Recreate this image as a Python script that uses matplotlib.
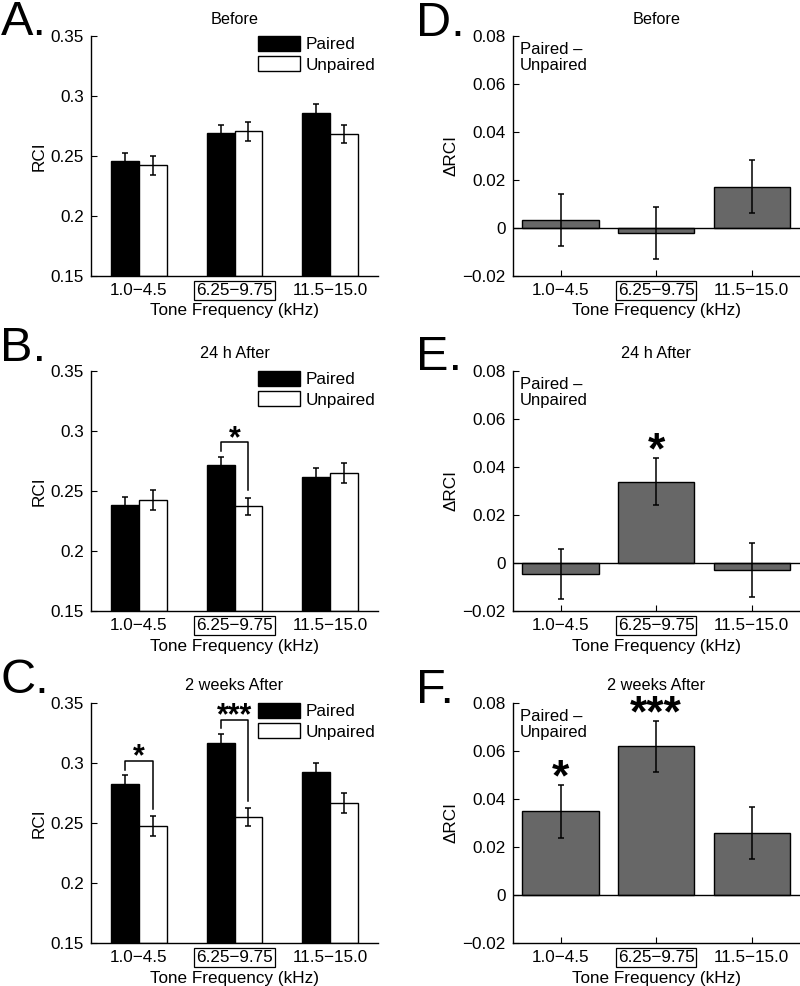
import matplotlib
matplotlib.use("Agg")
import matplotlib.pyplot as plt
import numpy as np

plt.rcParams['font.family'] = ['Liberation Sans', 'DejaVu Sans']

categories = ["1.0\u22124.5", "6.25\u22129.75", "11.5\u221215.0"]
boxed_category = 1

titles = ["Before", "24 h After", "2 weeks After"]
left_letters = ["A.", "B.", "C."]
right_letters = ["D.", "E.", "F."]

# RCI values (left column)
paired = [
    [0.2456, 0.2689, 0.2856],
    [0.2380, 0.2715, 0.2620],
    [0.2828, 0.3169, 0.2925],
]
paired_err = [
    [0.0067, 0.0072, 0.0075],
    [0.0068, 0.0070, 0.0073],
    [0.0070, 0.0072, 0.0072],
]
unpaired = [
    [0.2422, 0.2706, 0.2681],
    [0.2425, 0.2372, 0.2650],
    [0.2475, 0.2547, 0.2667],
]
unpaired_err = [
    [0.0080, 0.0080, 0.0075],
    [0.0082, 0.0072, 0.0084],
    [0.0083, 0.0075, 0.0083],
]
# significance between paired / unpaired (panel index, group index, label)
pair_sig = [(1, 1, "*"), (2, 0, "*"), (2, 1, "***")]

# Delta RCI (right column)
delta = [
    [0.0033, -0.0021, 0.0172],
    [-0.0046, 0.0339, -0.0028],
    [0.0349, 0.0619, 0.0258],
]
delta_err = [
    [0.0108, 0.0109, 0.0110],
    [0.0105, 0.0098, 0.0113],
    [0.0111, 0.0106, 0.0110],
]
delta_sig = [(1, 1, "*"), (2, 0, "*"), (2, 1, "***")]

W, H = 800, 986
fig = plt.figure(figsize=(W / 100, H / 100), dpi=100)

ax_w = 287 / W
ax_h = 240 / H
tops = [36, 371, 703]
lefts = [91, 512.7]
letter_base_left = [35, 361, 693]
letter_base_right = [36, 370, 703]

x = np.arange(1, 4)
bw = 0.29
FS = 12.3


def style_axes(ax):
    for s in ["top", "right"]:
        ax.spines[s].set_visible(False)
    for s in ["left", "bottom"]:
        ax.spines[s].set_linewidth(1.0)
    ax.tick_params(direction="in", length=4, width=0.8, labelsize=FS, pad=5)
    ax.set_xlim(0.5, 3.5)
    ax.set_xticks(x)
    ax.set_xticklabels(categories)
    lab = ax.get_xticklabels()[boxed_category]
    lab.set_bbox(dict(boxstyle="square,pad=0.1", fc="none", ec="black", lw=0.9))
    ax.set_xlabel("Tone Frequency (kHz)", fontsize=FS, labelpad=4)


def star(ax, xc, y, lbl, size, off_px):
    # place asterisk glyph centre about off_px pixels above y
    fs_px = size * 100 / 72
    base = off_px - 0.57 * fs_px
    ax.annotate(lbl, xy=(xc, y), xytext=(0, base * 72 / 100), textcoords="offset points",
                ha="center", va="baseline", fontsize=size, fontweight="bold")


for i in range(3):
    # left column
    ax = fig.add_axes([lefts[0] / W, 1 - (tops[i] + 240) / H, ax_w, ax_h])
    ax.bar(x - bw / 2, np.array(paired[i]) - 0.15, bw, bottom=0.15, color="black",
           edgecolor="black", linewidth=1, label="Paired", zorder=2)
    ax.bar(x + bw / 2, np.array(unpaired[i]) - 0.15, bw, bottom=0.15, color="white",
           edgecolor="black", linewidth=1, label="Unpaired", zorder=2)
    ax.errorbar(x - bw / 2, paired[i], yerr=paired_err[i], fmt="none", ecolor="black",
                elinewidth=1.1, capsize=2, capthick=1.1, zorder=3)
    ax.errorbar(x + bw / 2, unpaired[i], yerr=unpaired_err[i], fmt="none", ecolor="black",
                elinewidth=1.1, capsize=2, capthick=1.1, zorder=3)
    ax.set_ylim(0.15, 0.35)
    ax.set_yticks([0.15, 0.2, 0.25, 0.3, 0.35])
    ax.set_yticklabels(["0.15", "0.2", "0.25", "0.3", "0.35"])
    style_axes(ax)
    ax.set_ylabel("RCI", fontsize=FS, labelpad=3)
    ax.set_title(titles[i], fontsize=11.7, pad=9)
    ax.legend(loc="upper right", bbox_to_anchor=(0.99, 1.0), frameon=False, fontsize=FS,
              handlelength=2.45, handleheight=0.93, labelspacing=0.25, handletextpad=0.3,
              borderaxespad=0, borderpad=0)
    for (p, g, lbl) in pair_sig:
        if p != i:
            continue
        top_p = paired[i][g] + paired_err[i][g]
        top_u = unpaired[i][g] + unpaired_err[i][g]
        yb = top_p + 0.012
        ax.plot([x[g] - bw / 2, x[g] - bw / 2, x[g] + bw / 2, x[g] + bw / 2],
                [top_p + 0.0047, yb, yb, top_u + 0.0062], color="black", lw=1.1)
        star(ax, x[g], yb, lbl, 22, 13)
    fig.text(0.5 / W, 1 - letter_base_left[i] / H, left_letters[i], fontsize=35,
             va="baseline", ha="left")

    # right column
    ax = fig.add_axes([lefts[1] / W, 1 - (tops[i] + 240) / H, ax_w, ax_h])
    ax.bar(x, delta[i], 0.8, color="#676767", edgecolor="black", linewidth=1, zorder=2)
    ax.errorbar(x, delta[i], yerr=delta_err[i], fmt="none", ecolor="black",
                elinewidth=1.1, capsize=2, capthick=1.1, zorder=3)
    ax.axhline(0, color="black", lw=1, zorder=4)
    ax.set_ylim(-0.02, 0.08)
    ax.set_yticks([-0.02, 0, 0.02, 0.04, 0.06, 0.08])
    ax.set_yticklabels(["\u22120.02", "0", "0.02", "0.04", "0.06", "0.08"])
    style_axes(ax)
    ax.set_ylabel("\u0394RCI", fontsize=FS, labelpad=3)
    ax.set_title(titles[i], fontsize=11.7, pad=9)
    ax.text(0.025, 0.975, "Paired \u2013\nUnpaired", transform=ax.transAxes, fontsize=12,
            va="top", ha="left", linespacing=1.05)
    for (p, g, lbl) in delta_sig:
        if p != i:
            continue
        ytop = delta[i][g] + delta_err[i][g]
        star(ax, x[g], ytop, lbl, 32, 20)
    fig.text(416 / W, 1 - letter_base_right[i] / H, right_letters[i], fontsize=35,
             va="baseline", ha="left")

fig.savefig("out.png", dpi=100)
